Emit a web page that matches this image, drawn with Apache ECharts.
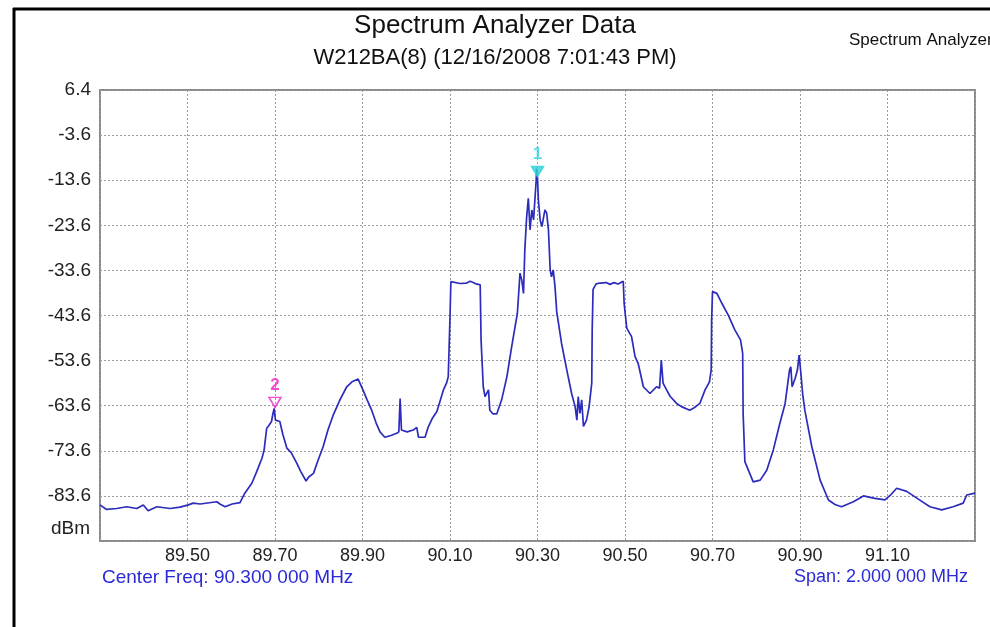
<!DOCTYPE html>
<html>
<head>
<meta charset="utf-8">
<script src="https://cdn.jsdelivr.net/npm/echarts@6/dist/echarts.min.js"></script>
<style>
html,body{margin:0;padding:0;background:#fff;}
#chart{width:990px;height:627px;}
</style>
</head>
<body>
<div id="chart"></div>
<script>
// ---- data ----
const freqMHz = [
89.300,89.315,89.338,89.361,89.384,89.399,89.410,89.430,89.460,89.483,89.502,89.513,89.529,89.567,89.574,89.586,89.602,89.620,89.631,89.647,
89.657,89.670,89.675,89.681,89.686,89.692,89.695,89.698,89.701,89.704,89.711,89.718,89.727,89.737,89.750,89.759,89.771,89.777,89.788,89.798,
89.810,89.821,89.833,89.849,89.864,89.876,89.890,89.901,89.910,89.921,89.931,89.940,89.951,89.965,89.978,89.983,89.986,89.989,90.002,90.016,
90.024,90.028,90.043,90.050,90.059,90.070,90.085,90.092,90.096,90.100,90.102,90.123,90.138,90.146,90.153,90.160,90.169,90.171,90.176,90.180,
90.188,90.191,90.198,90.207,90.210,90.218,90.230,90.241,90.254,90.260,90.264,90.268,90.271,90.275,90.279,90.283,90.287,90.291,90.294,90.297,
90.298,90.300,90.302,90.306,90.310,90.313,90.317,90.321,90.325,90.329,90.332,90.336,90.340,90.344,90.355,90.367,90.378,90.386,90.390,90.393,
90.397,90.401,90.405,90.412,90.418,90.424,90.425,90.427,90.434,90.443,90.457,90.466,90.475,90.484,90.496,90.498,90.504,90.515,90.523,90.530,
90.542,90.557,90.572,90.579,90.583,90.587,90.595,90.603,90.618,90.629,90.648,90.659,90.671,90.683,90.693,90.697,90.698,90.700,90.710,90.722,
90.736,90.751,90.764,90.769,90.770,90.774,90.782,90.793,90.809,90.824,90.839,90.854,90.866,90.876,90.879,90.882,90.889,90.894,90.898,90.902,
90.906,90.911,90.927,90.946,90.965,90.980,90.995,91.022,91.045,91.068,91.094,91.106,91.121,91.144,91.167,91.197,91.224,91.250,91.273,91.281,
91.300
];
const levelDbm = [
-85.6,-86.6,-86.4,-86.0,-86.4,-85.6,-86.9,-86.0,-86.4,-86.1,-85.6,-85.2,-85.4,-84.9,-85.4,-86.0,-85.4,-85.1,-83.0,-80.8,
-78.5,-75.3,-73.5,-68.6,-68.0,-67.1,-65.5,-64.2,-66.8,-66.4,-67.1,-70.0,-73.0,-74.0,-76.4,-78.2,-80.3,-79.4,-78.6,-75.8,
-72.7,-69.0,-65.7,-62.2,-59.4,-58.3,-57.7,-60.1,-62.2,-64.6,-67.4,-69.4,-70.6,-70.2,-69.7,-69.4,-62.0,-69.0,-69.4,-69.0,
-68.4,-70.6,-70.6,-68.4,-66.5,-64.9,-60.1,-58.6,-57.2,-43.9,-36.1,-36.5,-36.4,-36.0,-36.3,-36.6,-36.8,-49.0,-59.4,-61.6,
-60.1,-64.6,-65.4,-65.4,-65.3,-62.3,-57.2,-50.5,-43.1,-34.2,-35.7,-38.7,-29.1,-22.0,-17.6,-24.6,-20.2,-22.4,-18.0,-13.6,
-11.0,-13.0,-18.0,-22.4,-23.9,-24.3,-20.2,-20.9,-24.6,-33.5,-35.0,-33.5,-37.2,-42.8,-49.8,-55.7,-60.9,-63.8,-66.8,-61.6,
-65.3,-62.3,-68.2,-66.8,-63.8,-58.6,-46.8,-37.8,-36.6,-36.4,-36.3,-36.7,-36.3,-36.6,-36.0,-40.9,-46.4,-48.3,-52.7,-54.2,
-59.4,-60.9,-59.4,-59.7,-53.5,-58.6,-60.1,-61.5,-63.1,-63.8,-64.6,-64.0,-63.1,-60.1,-58.3,-55.7,-44.6,-38.3,-38.7,-41.0,
-43.5,-46.8,-49.0,-52.0,-65.3,-76.0,-77.9,-80.5,-80.1,-77.9,-73.4,-67.5,-63.1,-55.7,-55.0,-59.4,-57.5,-55.7,-52.4,-56.4,
-60.9,-64.6,-72.7,-80.1,-84.5,-85.5,-86.0,-84.9,-83.6,-84.1,-84.5,-83.5,-81.9,-82.6,-84.1,-86.0,-86.7,-86.0,-85.2,-83.4,
-83.0
];
const markerNames = ['1', '2'];
const markerFreq = [90.30, 89.70];
const markerLevel = [-13.0, -64.2];
const markerColors = ['#2fd3d8', '#f020c8'];

const titleText = 'Spectrum Analyzer Data';
const subtitleText = 'W212BA(8) (12/16/2008 7:01:43 PM)';
const cornerText = 'Spectrum Analyzer';
const centerText = 'Center Freq: 90.300 000 MHz';
const spanText = 'Span: 2.000 000 MHz';
const yUnit = 'dBm';
const xMin = 89.3, xMax = 91.3, xStep = 0.2;
const yMin = -93.6, yMax = 6.4, yStep = 10;

// ---- chart ----
const FONT = '"Liberation Sans", Arial, sans-serif';
const chart = echarts.init(document.getElementById('chart'), null, {renderer: 'canvas'});
const traceData = freqMHz.map((f, i) => [f, levelDbm[i]]);
const markerData = markerFreq.map((f, i) => ({
  value: [f, markerLevel[i]],
  name: markerNames[i],
  itemStyle: i === 0
    ? {color: markerColors[i], borderColor: markerColors[i], borderWidth: 1.5}
    : {color: 'rgba(255,255,255,0)', borderColor: markerColors[i], borderWidth: 1.5},
  label: {color: markerColors[i]}
}));

const near = (a, b) => Math.abs(a - b) < 1e-6;

chart.setOption({
  animation: false,
  backgroundColor: '#ffffff',
  grid: {left: 100, right: 15, top: 90, bottom: 86, show: true, borderColor: '#8a8a8a', borderWidth: 2, containLabel: false},
  xAxis: {
    type: 'value', min: xMin, max: xMax, interval: xStep,
    axisLine: {show: false}, axisTick: {show: false},
    splitLine: {show: true, lineStyle: {color: '#9a9a9a', type: [2, 2], width: 1}},
    axisLabel: {
      color: '#222', fontSize: 18, fontFamily: FONT, margin: 6,
      formatter: v => (near(v, xMin) || near(v, xMax)) ? '' : v.toFixed(2)
    }
  },
  yAxis: {
    type: 'value', min: yMin, max: yMax, interval: yStep,
    axisLine: {show: false}, axisTick: {show: false},
    splitLine: {show: true, lineStyle: {color: '#9a9a9a', type: [2, 2], width: 1}},
    axisLabel: {
      color: '#222', fontSize: 19, fontFamily: FONT, margin: 9,
      formatter: v => near(v, yMin) ? '' : v.toFixed(1)
    }
  },
  series: [
    {
      type: 'line', data: traceData, showSymbol: false, symbol: 'none',
      lineStyle: {color: '#2c2cbc', width: 1.7}, z: 3
    },
    {
      type: 'scatter', data: markerData, symbol: 'triangle', symbolRotate: 180,
      symbolSize: [12, 10], symbolOffset: [0, -6], z: 4,
      label: {show: true, position: 'top', distance: 3, fontSize: 17, fontWeight: 'bold', fontFamily: FONT,
        formatter: p => p.name}
    }
  ],
  graphic: [
    {type: 'line', shape: {x1: 14, y1: 8, x2: 14, y2: 627}, style: {stroke: '#000', lineWidth: 3}},
    {type: 'line', shape: {x1: 13, y1: 9, x2: 990, y2: 9}, style: {stroke: '#000', lineWidth: 3}},
    {type: 'text', left: 'center', top: 13, style: {text: titleText, font: '26px ' + FONT, fill: '#111'}},
    {type: 'text', left: 'center', top: 47, style: {text: subtitleText, font: '22px ' + FONT, fill: '#111'}},
    {type: 'text', x: 849, y: 32, style: {text: cornerText, font: '17px ' + FONT, fill: '#111'}},
    {type: 'text', x: 102, y: 568, style: {text: centerText, font: '19px ' + FONT, fill: '#2a2ad6'}},
    {type: 'text', x: 968, y: 568, style: {text: spanText, font: '18px ' + FONT, fill: '#2a2ad6', textAlign: 'right'}},
    {type: 'text', x: 90, y: 519, style: {text: yUnit, font: '19px ' + FONT, fill: '#222', textAlign: 'right'}}
  ]
});
</script>
</body>
</html>
